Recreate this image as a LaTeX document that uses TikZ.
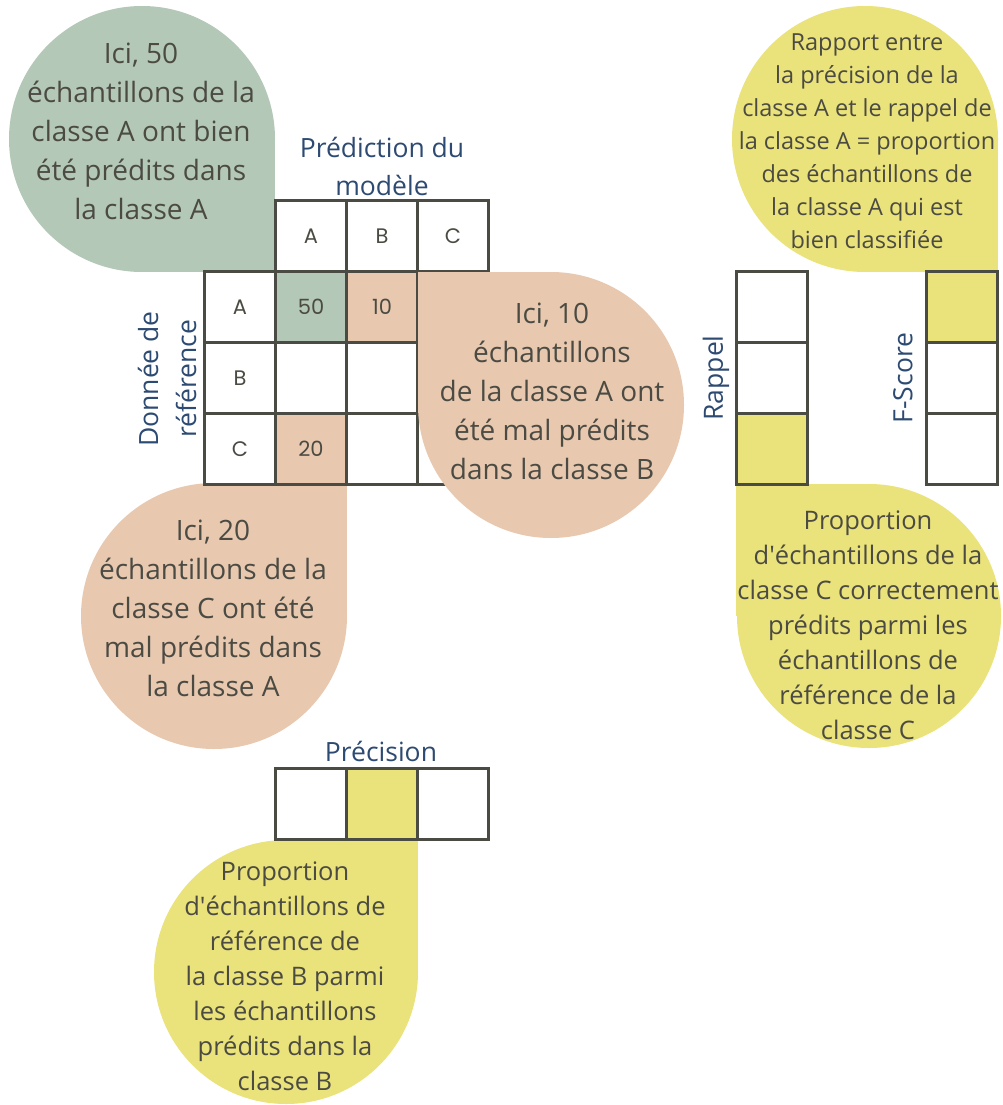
\documentclass[tikz,border=0pt]{standalone}
\usepackage{fontspec}
\setmainfont{Open Sans}
\newfontfamily\cellfont{Poppins}

\definecolor{sage}{HTML}{B4C8B7}
\definecolor{peach}{HTML}{E8C9B0}
\definecolor{lemon}{HTML}{EAE27A}
\definecolor{grid}{HTML}{4A4C44}
\definecolor{ink}{HTML}{4B4B43}
\definecolor{navy}{HTML}{2D4A72}

\tikzstyle{cell}=[draw=grid,line width=3pt,minimum size=71pt,inner sep=0pt,text=ink,font=\cellfont\fontsize{21}{21}\selectfont]
\tikzstyle{bub}=[align=center,inner sep=0pt,text=ink,font=\fontsize{28}{39}\selectfont]
\tikzstyle{bubs}=[bub,font=\fontsize{25.5}{35}\selectfont]
\tikzstyle{ttl}=[align=center,inner sep=0pt,text=navy,font=\fontsize{26.5}{38}\selectfont]

\begin{document}
\begin{tikzpicture}[x=1pt,y=-1pt]
  \useasboundingbox (0,0) rectangle (1002,1105);

  % bubbles behind the tables
  \fill[sage] (142,139) circle (133pt);
  \fill[sage] (142,139) rectangle (275,272);
  \fill[peach] (214,616) circle (133pt);
  \fill[peach] (214,616) rectangle (347,483);
  \fill[lemon] (865,139) circle (133pt);
  \fill[lemon] (865,139) rectangle (998,272);
  \fill[lemon] (869,616) circle (132pt);
  \fill[lemon] (869,616) rectangle (736,484);
  \fill[lemon] (286,972) circle (132pt);
  \fill[lemon] (286,972) rectangle (418,840);

  % confusion matrix
  \node[cell] (pa) at (311,236) {A};
  \node[cell] (pb) at (382,236) {B};
  \node[cell] (pc) at (453,236) {C};

  \node[cell] (ra) at (240,307) {A};
  \node[cell] (rb) at (240,378) {B};
  \node[cell] (rc) at (240,449) {C};

  \node[cell,fill=sage] (aa) at (311,307) {50};
  \node[cell,fill=peach] (ab) at (382,307) {10};
  \node[cell] (ac) at (453,307) {};
  \node[cell] (ba) at (311,378) {};
  \node[cell] (bb) at (382,378) {};
  \node[cell] (bc) at (453,378) {};
  \node[cell,fill=peach] (ca) at (311,449) {20};
  \node[cell] (cb) at (382,449) {};
  \node[cell] (cc) at (453,449) {};

  % precision / recall / f-score
  \node[cell] (pr1) at (311,804) {};
  \node[cell,fill=lemon] (pr2) at (382,804) {};
  \node[cell] (pr3) at (453,804) {};

  \node[cell] (rp1) at (772,307) {};
  \node[cell] (rp2) at (772,378) {};
  \node[cell,fill=lemon] (rp3) at (772,449) {};

  \node[cell,fill=lemon] (fs1) at (962,307) {};
  \node[cell] (fs2) at (962,378) {};
  \node[cell] (fs3) at (962,449) {};

  % this one lies over the matrix
  \fill[peach] (551,405) circle (133pt);
  \fill[peach] (551,405) rectangle (418,272);

  \node[bub] (t50) at (141,131) {Ici, 50\\échantillons de la\\classe A ont bien\\été prédits dans\\la classe A};
  \node[bub] (t10) at (552,391) {Ici, 10\\échantillons\\de la classe A ont\\été mal prédits\\dans la classe B};
  \node[bub] (t20) at (213,608) {Ici, 20\\échantillons de la\\classe C ont été\\mal prédits dans\\la classe A};
  \node[bubs,font=\fontsize{23.5}{33}\selectfont] (tfs) at (867,141) {Rapport entre\\la précision de la\\classe A et le rappel de\\la classe A = proportion\\des échantillons de\\la classe A qui est\\bien classifiée};
  \node[bubs] (trp) at (868,625) {Proportion\\d\textquotesingle échantillons de la\\classe C correctement\\prédits parmi les\\échantillons de\\référence de la\\classe C};
  \node[bubs] (tpr) at (285,976) {Proportion\\d\textquotesingle échantillons de\\référence de\\la classe B parmi\\les échantillons\\prédits dans la\\classe B};

  \node[ttl] (pred) at (382,166) {Prédiction du\\modèle};
  \node[ttl,rotate=90] (ref) at (167,379) {Donnée de\\référence};
  \node[ttl,rotate=90] (rap) at (716,378) {Rappel};
  \node[ttl,rotate=90] (fsc) at (903,378) {F-Score};
  \node[ttl] (prec) at (381,751) {Précision};
\end{tikzpicture}
\end{document}
